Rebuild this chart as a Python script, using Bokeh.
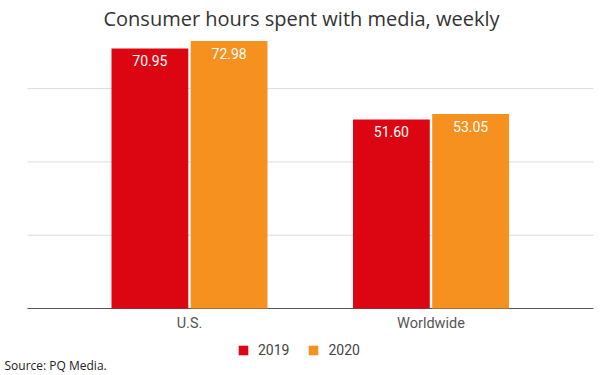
from bokeh.plotting import figure
from bokeh.models import (ColumnDataSource, Range1d, Legend, LegendItem, Label)
from bokeh.core.properties import value
from bokeh.transform import dodge
from bokeh.embed import file_html
from bokeh.resources import INLINE

categories = ["U.S.", "Worldwide"]
years = ["2019", "2020"]
values_2019 = [70.95, 51.60]
values_2020 = [72.98, 53.05]
labels_2019 = ["70.95", "51.60"]
labels_2020 = ["72.98", "53.05"]
grid_ticks = [20, 40, 60]

RED = "#DB0612"
ORANGE = "#F6901E"

x_pos = list(range(len(categories)))
src = ColumnDataSource(dict(x=x_pos, cat=categories, v19=values_2019, v20=values_2020,
                            l19=labels_2019, l20=labels_2020))

# frame covers the whole canvas; 241.5 px per category, 3.665 px per hour
X0, X1 = -0.7826, 1.7019
Y0, Y1 = -18.28, 84.04
p = figure(width=600, height=375, output_backend="svg", toolbar_location=None,
           x_range=Range1d(X0, X1), y_range=Range1d(Y0, Y1),
           x_axis_location=None, y_axis_location=None,
           min_border_left=0, min_border_right=0, min_border_top=0,
           min_border_bottom=0)
p.outline_line_color = None
p.background_fill_color = "white"
p.border_fill_color = "white"
p.xgrid.grid_line_color = None
p.ygrid.grid_line_color = None

# plot-area extent (left / right edge of grid lines)
GL, GR = X0 + 27 / 241.5, X1 - 7 / 241.5
grid_src = ColumnDataSource(dict(y=grid_ticks, x0=[GL] * len(grid_ticks),
                                 x1=[GR] * len(grid_ticks)))
p.segment(x0="x0", x1="x1", y0="y", y1="y", source=grid_src,
          line_color="#dcdcdc", line_width=1)
p.segment(x0=[GL], x1=[GR], y0=[0], y1=[0], line_color="#555555", line_width=1)

off = 0.164
bw = 0.318
r19 = p.vbar(x=dodge("x", -off), top="v19", width=bw, bottom=0,
             source=src, fill_color=RED, line_color=None)
r20 = p.vbar(x=dodge("x", off), top="v20", width=bw, bottom=0,
             source=src, fill_color=ORANGE, line_color=None)

for col, lab, o in (("v19", "l19", -off), ("v20", "l20", off)):
    p.text(x=dodge("x", o), y=col, text=lab, source=src,
           y_offset=12, text_align="center", text_baseline="middle",
           text_color="white", text_font=value("Roboto"),
           text_font_size=value("14px"))

# category labels
p.text(x="x", y=0, text="cat", source=src, y_offset=15,
       text_align="center", text_baseline="middle", text_color="#555555",
       text_font=value("Roboto"), text_font_size=value("14.5px"))

legend = Legend(items=[LegendItem(label=years[0], renderers=[r19]),
                       LegendItem(label=years[1], renderers=[r20])],
                location=(237, 17), orientation="horizontal",
                glyph_width=12, glyph_height=12, label_height=12,
                label_standoff=9, spacing=18, padding=0, margin=0,
                border_line_color=None, background_fill_alpha=0,
                label_text_font="Roboto", label_text_font_size="14px",
                label_text_color="#444444")
p.add_layout(legend, "center")

title = Label(x=301, y=357, x_units="screen", y_units="screen",
              text="Consumer hours spent with media, weekly",
              text_align="center", text_baseline="middle",
              text_font="Open Sans", text_font_size="20px", text_color="#333333")
p.add_layout(title)

source_lbl = Label(x=4, y=10, x_units="screen", y_units="screen",
                   text="Source: PQ Media.", text_align="left",
                   text_baseline="middle", text_font="Open Sans",
                   text_font_size="12px", text_color="#222222")
p.add_layout(source_lbl)

open("out.html", "w").write(file_html(p, INLINE))
